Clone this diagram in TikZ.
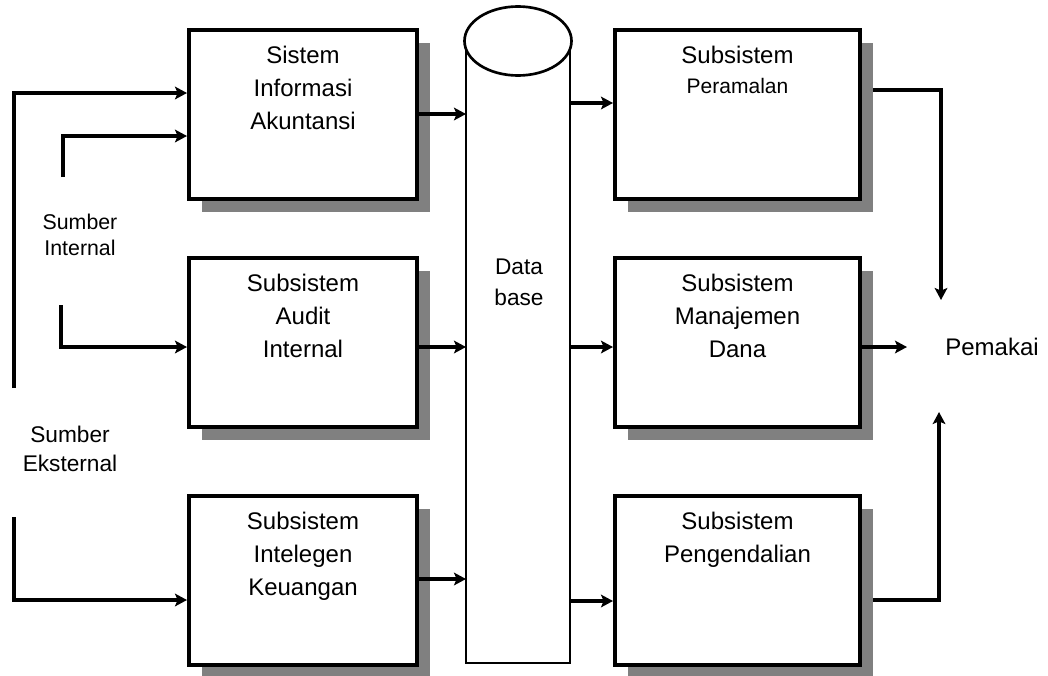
\documentclass[tikz,border=0pt]{standalone}
\usepackage{fontspec}
\setmainfont{Liberation Sans}
\usetikzlibrary{positioning,shapes.geometric,shadows,arrows.meta,backgrounds}

\tikzset{
  blok/.style={draw, line width=3pt, fill=white, minimum height=126.75pt,
    drop shadow={shadow xshift=9.5pt, shadow yshift=-10pt, fill=black!50, opacity=1}},
  blokkiri/.style={blok, minimum width=171pt},
  blokkanan/.style={blok, minimum width=183.75pt},
  isi/.style={align=center, inner sep=0pt, font=\fontsize{18}{24.75}\selectfont},
  ket/.style={align=center, inner sep=0pt},
  panah/.style={line width=2.4pt, -{Stealth[length=9pt,width=9.5pt,inset=2pt]}},
  garis/.style={line width=2.4pt},
}

\begin{document}
\begin{tikzpicture}[x=0.75pt, y=-0.75pt]
  \useasboundingbox (0,0) rectangle (1048,675);

  % subsistem masukan
  \node[blokkiri] (sia) at (303,114.5) {};
  \node[blokkiri] (sai) at (303,342) {};
  \node[blokkiri] (sik) at (303,580) {};
  \node[isi, below=13.75pt of sia.north] (tsia) {Sistem\\Informasi\\Akuntansi};
  \node[isi, below=13.75pt of sai.north] (tsai) {Subsistem\\Audit\\Internal};
  \node[isi, below=13.75pt of sik.north] (tsik) {Subsistem\\Intelegen\\Keuangan};

  % subsistem keluaran
  \node[blokkanan] (rp) at (737.5,114.5) {};
  \node[blokkanan] (rmd) at (737.5,342) {};
  \node[blokkanan] (rpg) at (737.5,580) {};
  \node[isi, below=13.75pt of rp.north] (trp) {Subsistem\\[-2.3pt]{\fontsize{15.75}{18}\selectfont Peramalan}};
  \node[isi, below=13.75pt of rmd.north] (trmd) {Subsistem\\Manajemen\\Dana};
  \node[isi, below=13.75pt of rpg.north] (trpg) {Subsistem\\Pengendalian};

  % database
  \node[minimum width=78pt, minimum height=466.5pt, inner sep=0pt, outer sep=0pt] (db) at (518,352) {};
  \draw[line width=2pt] (db.north west) -- (db.south west) -- (db.south east) -- (db.north east);
  \node[draw, ellipse, line width=2pt, fill=white, inner sep=0pt,
        minimum width=80.25pt, minimum height=51.75pt] (dbtop) at (db.north) {};
  \node[ket, font=\fontsize{17}{23.25}\selectfont] (tdb) at (519,282.5) {Data\\base};

  % sumber dan pemakai
  \node[ket, font=\fontsize{16}{19.5}\selectfont] (sint) at (80,235) {Sumber\\Internal};
  \node[ket, font=\fontsize{17}{21.75}\selectfont] (sekst) at (70,448.5) {Sumber\\Eksternal};
  \node[ket, font=\fontsize{18}{24}\selectfont] (pakai) at (992,347) {Pemakai};

  \coordinate (ekst1) at (14,388);
  \coordinate (ekst2) at (14,517);
  \coordinate (int1) at (63,177);
  \coordinate (int2) at (61,305);
  \coordinate (pm1) at (941,300);
  \coordinate (pm2) at (907,347);
  \coordinate (pm3) at (939,412);

  % masukan
  \draw[panah] (ekst1) |- (sia.west |- 0,93);
  \draw[panah] (int1) |- (sia.west |- 0,136);
  \draw[panah] (int2) |- (sai.west |- 0,347);
  \draw[panah] (ekst2) |- (sik.west |- 0,600);

  % ke dan dari database
  \foreach \n/\y in {sia/114, sai/347, sik/579}
    \draw[panah] (\n.east |- 0,\y) -- (db.west |- 0,\y);
  \foreach \n/\y in {rp/103, rmd/347, rpg/601}
    \draw[panah] (db.east |- 0,\y) -- (\n.west |- 0,\y);

  % ke pemakai
  \begin{scope}[on background layer]
    \draw[panah] (rp.east |- 0,90) -| (pm1);
    \draw[panah] (rpg.east |- 0,600) -| (pm3);
  \end{scope}
  \draw[panah] (rmd.east |- 0,347) -- (pm2);
\end{tikzpicture}
\end{document}
